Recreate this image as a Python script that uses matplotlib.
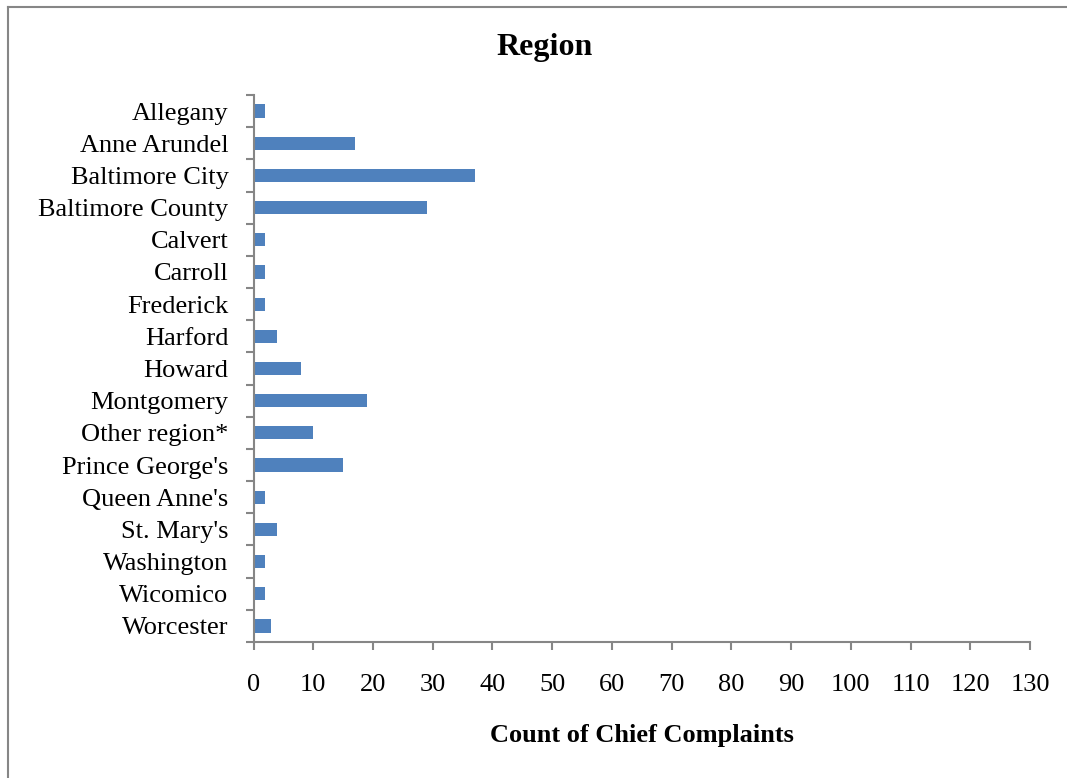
import matplotlib
matplotlib.use("Agg")
import matplotlib.pyplot as plt
from matplotlib.lines import Line2D

categories = ["Allegany", "Anne Arundel", "Baltimore City", "Baltimore County", "Calvert",
              "Carroll", "Frederick", "Harford", "Howard", "Montgomery", "Other region*",
              "Prince George's", "Queen Anne's", "St. Mary's", "Washington", "Wicomico", "Worcester"]
values = [2, 17, 37, 29, 2, 2, 2, 4, 8, 19, 10, 15, 2, 4, 2, 2, 3]
xticks = list(range(0, 131, 10))

plt.rcParams['font.family'] = ['Liberation Serif', 'DejaVu Serif']
W, H = 1067, 778
fig = plt.figure(figsize=(W / 100, H / 100), dpi=100)
ax = fig.add_axes([253.5 / W, 1 - 642 / H, (1030 - 253.5) / W, (642 - 95) / H])

n = len(categories)
ypos = list(range(n))
ax.barh(ypos, values, height=0.41, color='#4F81BD')
ax.set_ylim(n - 0.5, -0.5)
ax.set_xlim(0, 130)
ax.set_xticks(xticks)
ax.set_xticklabels([str(t) for t in xticks], fontsize=19)
ax.set_yticks(ypos)
ax.set_yticklabels(categories, fontsize=19)
ax.set_yticks([i - 0.5 for i in range(n + 1)], minor=True)
ax.tick_params(axis='y', which='major', length=0, pad=18)
ax.tick_params(axis='y', which='minor', length=6, width=1.5, color='#868686')
ax.tick_params(axis='x', length=6, width=1.5, color='#868686', pad=17)
for s in ['top', 'right']:
    ax.spines[s].set_visible(False)
for s in ['left', 'bottom']:
    ax.spines[s].set_color('#868686')
    ax.spines[s].set_linewidth(1.5)

ax.set_xlabel("Count of Chief Complaints", fontsize=19, fontweight='bold', labelpad=20)
fig.text(545 / W, 1 - 48 / H, "Region", ha='center', va='center', fontsize=23, fontweight='bold')

fig.add_artist(Line2D([8 / W, 1.0], [1 - 7 / H, 1 - 7 / H], transform=fig.transFigure, color='#868686', lw=1.5))
fig.add_artist(Line2D([8 / W, 8 / W], [1 - 7 / H, 0], transform=fig.transFigure, color='#868686', lw=1.5))

fig.savefig("out.png", dpi=100)
